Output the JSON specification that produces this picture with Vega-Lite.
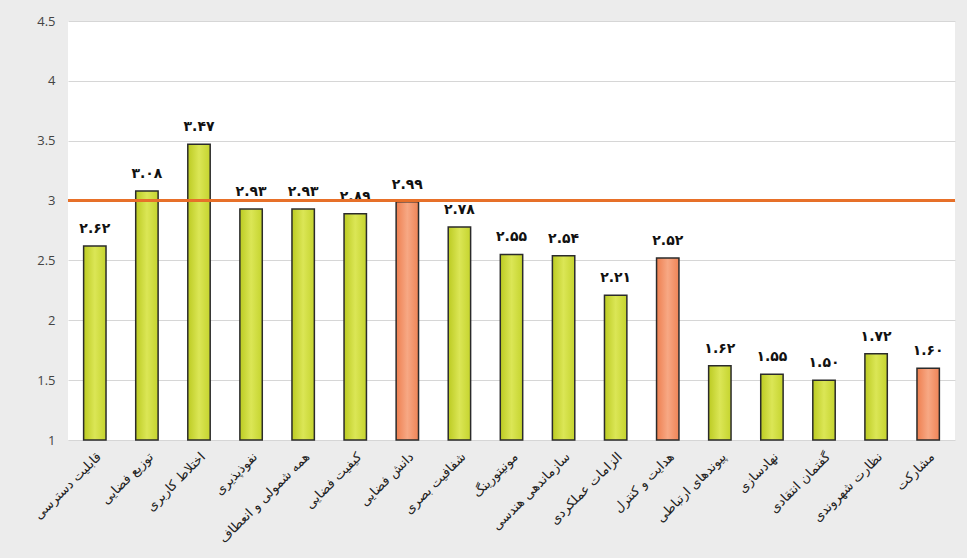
{
  "$schema": "https://vega.github.io/schema/vega-lite/v6.json",
  "width": 887,
  "height": 419,
  "autosize": {"type": "none"},
  "padding": {"left": 68, "top": 21, "right": 12, "bottom": 118},
  "background": "#ececec",
  "config": {
    "view": {"fill": "white", "stroke": null},
    "font": "DejaVu Sans"
  },
  "data": {
    "values": [
      {"name": "قابلیت دسترسی", "value": 2.62, "label": "۲.۶۲", "group": "a"},
      {"name": "توزیع فضایی", "value": 3.08, "label": "۳.۰۸", "group": "a"},
      {"name": "اختلاط کاربری", "value": 3.47, "label": "۳.۴۷", "group": "a"},
      {"name": "نفوذپذیری", "value": 2.93, "label": "۲.۹۳", "group": "a"},
      {"name": "همه شمولی و انعطاف", "value": 2.93, "label": "۲.۹۳", "group": "a"},
      {"name": "کیفیت فضایی", "value": 2.89, "label": "۲.۸۹", "group": "a"},
      {"name": "دانش فضایی", "value": 2.99, "label": "۲.۹۹", "group": "b"},
      {"name": "شفافیت بصری", "value": 2.78, "label": "۲.۷۸", "group": "a"},
      {"name": "مونیتورینگ", "value": 2.55, "label": "۲.۵۵", "group": "a"},
      {"name": "سازماندهی هندسی", "value": 2.54, "label": "۲.۵۴", "group": "a"},
      {"name": "الزامات عملکردی", "value": 2.21, "label": "۲.۲۱", "group": "a"},
      {"name": "هدایت و کنترل", "value": 2.52, "label": "۲.۵۲", "group": "b"},
      {"name": "پیوندهای ارتباطی", "value": 1.62, "label": "۱.۶۲", "group": "a"},
      {"name": "نهادسازی", "value": 1.55, "label": "۱.۵۵", "group": "a"},
      {"name": "گفتمان انتقادی", "value": 1.5, "label": "۱.۵۰", "group": "a"},
      {"name": "نظارت شهروندی", "value": 1.72, "label": "۱.۷۲", "group": "a"},
      {"name": "مشارکت", "value": 1.6, "label": "۱.۶۰", "group": "b"}
    ]
  },
  "layer": [
    {
      "mark": {"type": "bar", "stroke": "#2b2b2b", "strokeWidth": 1.5},
      "encoding": {
        "x": {
          "field": "name",
          "type": "nominal",
          "sort": null,
          "scale": {"paddingInner": 0.57, "paddingOuter": 0.3},
          "axis": {
            "title": null,
            "labelAngle": -45,
            "labelFontSize": 13,
            "labelColor": "#222",
            "labelPadding": 10,
            "ticks": false,
            "domain": false
          }
        },
        "y": {
          "field": "value",
          "type": "quantitative",
          "scale": {"domain": [1, 4.5], "nice": false, "zero": false},
          "axis": {
            "title": null,
            "values": [1, 1.5, 2, 2.5, 3, 3.5, 4, 4.5],
            "format": "~g",
            "labelFontSize": 13,
            "labelColor": "#444",
            "labelPadding": 13,
            "ticks": false,
            "domain": false,
            "gridColor": "#d6d6d6",
            "labelFont": "Open Sans"
          }
        },
        "y2": {"datum": 1},
        "fill": {
          "condition": {
            "test": "datum.group === 'b'",
            "value": {
              "gradient": "linear", "x1": 0, "x2": 1, "y1": 0, "y2": 0,
              "stops": [
                {"offset": 0, "color": "#ee7f50"},
                {"offset": 0.5, "color": "#f7a884"},
                {"offset": 1, "color": "#ef8456"}
              ]
            }
          },
          "value": {
            "gradient": "linear", "x1": 0, "x2": 1, "y1": 0, "y2": 0,
            "stops": [
              {"offset": 0, "color": "#bccb22"},
              {"offset": 0.5, "color": "#dbe656"},
              {"offset": 1, "color": "#c5d42e"}
            ]
          }
        }
      }
    },
    {
      "mark": {"type": "text", "dy": -17, "fontSize": 14, "fontWeight": "bold", "color": "#111"},
      "encoding": {
        "x": {"field": "name", "type": "nominal", "sort": null},
        "y": {"field": "value", "type": "quantitative"},
        "text": {"field": "label"}
      }
    },
    {
      "mark": {"type": "rule", "color": "#e8702a", "strokeWidth": 1.6},
      "encoding": {"y": {"datum": 3}}
    }
  ]
}
